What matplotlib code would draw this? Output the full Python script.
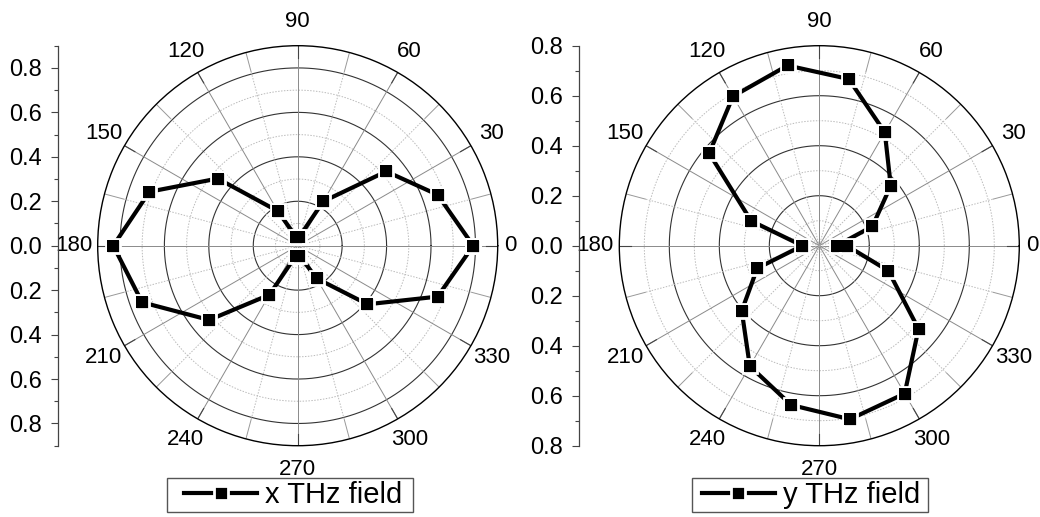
import numpy as np
import matplotlib
matplotlib.use("Agg")
import matplotlib.pyplot as plt
from matplotlib.patches import Rectangle
from matplotlib.ticker import FuncFormatter, MultipleLocator

plt.rcParams['font.family'] = ['Liberation Sans', 'DejaVu Sans']

# angles (deg) of the measured points
angles = [0, 20, 40, 60, 80, 100, 120, 140, 160, 180,
          200, 220, 240, 260, 280, 300, 320, 340, 360]

# x THz field amplitude
x_field = [0.79, 0.67, 0.52, 0.23, 0.04, 0.04, 0.18, 0.47, 0.71, 0.83,
           0.745, 0.52, 0.255, 0.045, 0.045, 0.17, 0.41, 0.67, 0.79]

# y THz field amplitude
y_field = [0.07, 0.226, 0.373, 0.524, 0.677, 0.732, 0.69, 0.575, 0.29, 0.068,
           0.264, 0.405, 0.556, 0.647, 0.705, 0.683, 0.518, 0.294, 0.11]

angle_labels = [str(a) for a in range(0, 360, 30)]

W, H = 1040, 517
fig = plt.figure(figsize=(W / 100, H / 100), dpi=100)

R_PX = 200  # outer circle radius in px
CY = 245.7
legends = []


def panel(cx, axis_x, rmax, major_r, minor_r, data, label, leg_cx, pads):
    ax = fig.add_axes([(cx - R_PX) / W, (H - CY - R_PX) / H, 2 * R_PX / W, 2 * R_PX / H],
                      projection='polar')
    ax.set_ylim(0, rmax)
    ax.grid(False)
    ax.set_xticks([])
    ax.set_yticks([])
    ax.spines['polar'].set_color('black')
    ax.spines['polar'].set_linewidth(1.0)

    tt = np.linspace(0, 2 * np.pi, 400)
    for r in major_r:
        ax.plot(tt, np.full_like(tt, r), color='#333333', lw=0.8, zorder=1)
    for r in minor_r:
        ax.plot(tt, np.full_like(tt, r), color='#bbbbbb', lw=0.7, ls=(0, (1.5, 1.5)), zorder=1)
    tick_len = 0.09 if rmax > 0.85 else 0.08
    for a in range(0, 360, 15):
        th = np.radians(a)
        if a % 30 == 0:
            ax.plot([th, th], [0, rmax], color='#8a8a8a', lw=0.7, zorder=1)
            ax.plot([th, th], [rmax - tick_len * 0.6, rmax], color='#444444', lw=0.8, zorder=1)
        else:
            ax.plot([th, th], [0, rmax - tick_len], color='#bbbbbb', lw=0.7,
                    ls=(0, (1.5, 1.5)), zorder=1)
            ax.plot([th, th], [rmax - tick_len, rmax], color='#999999', lw=0.7, zorder=1)

    for a, s in zip(range(0, 360, 30), angle_labels):
        f = 1.065 if a == 0 else 1.12
        ax.text(np.radians(a), rmax * f, s, ha='center', va='center',
                fontsize=16, clip_on=False)

    # line broken around the symbols (white halo), then solid symbols on top
    line, = ax.plot(np.radians(angles), data, color='black', lw=3.0,
                    marker='s', markersize=10.6, markerfacecolor='black',
                    markeredgecolor='white', markeredgewidth=2.0,
                    zorder=3, clip_on=False)
    ax.plot(np.radians(angles), data, ls='none', marker='s', markersize=8.6,
            markerfacecolor='black', markeredgewidth=0, zorder=4, clip_on=False)

    # vertical radius scale on the left
    sx = fig.add_axes([axis_x / W, (H - CY - R_PX) / H, 0.001, 2 * R_PX / H])
    sx.set_ylim(-rmax, rmax)
    for s in ['top', 'right', 'bottom']:
        sx.spines[s].set_visible(False)
    sx.spines['left'].set_color('#444444')
    sx.spines['left'].set_linewidth(0.9)
    sx.set_xticks([])
    sx.patch.set_visible(False)
    sx.yaxis.set_major_locator(MultipleLocator(0.2))
    sx.yaxis.set_minor_locator(MultipleLocator(0.1))
    sx.yaxis.set_major_formatter(FuncFormatter(lambda v, p: f"{abs(v):.1f}"))
    sx.tick_params(axis='y', which='major', direction='out', length=5, width=0.8,
                   color='#444444', labelsize=17, pad=6.5)
    sx.tick_params(axis='y', which='minor', direction='out', length=3, width=0.8,
                   color='#444444')

    leg = fig.legend([line], [label], loc='center',
                     bbox_to_anchor=(leg_cx / W, 22 / H), fontsize=21,
                     frameon=False, numpoints=1,
                     handlelength=2.5, handletextpad=0.28, borderpad=0,
                     borderaxespad=0)
    legends.append((leg, pads))
    return ax


panel(297.7, 58, 0.9, [0.2, 0.4, 0.6, 0.8], [0.1, 0.3, 0.5, 0.7], x_field,
      'x THz field', 293.5, (17, 10))
panel(819.3, 579.3, 0.8, [0.2, 0.4, 0.6], [0.1, 0.3, 0.5, 0.7], y_field,
      'y THz field', 811, (10, 8))

# legend frames, sized around the legend contents
fig.canvas.draw()
for leg, (pl, pr) in legends:
    bb = leg.get_window_extent()
    ymid = (bb.y0 + bb.y1) / 2
    x0, x1 = bb.x0 - pl, bb.x1 + pr
    y0, y1 = ymid - 17, ymid + 17
    fig.add_artist(Rectangle((x0 / W, y0 / H), (x1 - x0) / W, (y1 - y0) / H,
                             transform=fig.transFigure, fill=False,
                             edgecolor='#555555', lw=1.0))

fig.savefig('out.png', dpi=100)
